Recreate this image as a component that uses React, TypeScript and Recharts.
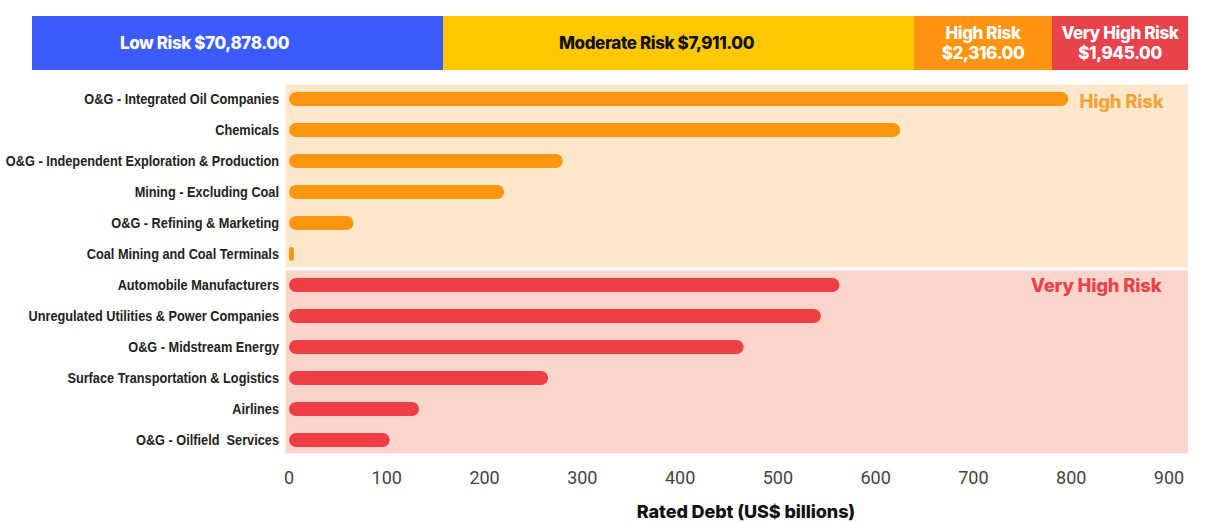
import React from 'react';
import { BarChart, Bar, XAxis, YAxis, Cell, ReferenceArea, Label } from 'recharts';

// sectors ordered top to bottom
const sectors = [
  'O&G - Integrated Oil Companies',
  'Chemicals',
  'O&G - Independent Exploration & Production',
  'Mining - Excluding Coal',
  'O&G - Refining & Marketing',
  'Coal Mining and Coal Terminals',
  'Automobile Manufacturers',
  'Unregulated Utilities & Power Companies',
  'O&G - Midstream Energy',
  'Surface Transportation & Logistics',
  'Airlines',
  'O&G - Oilfield  Services',
];

// rated debt, US$ billions
const ratedDebt = [797, 625, 280, 220, 66, 5, 563, 544, 465, 265, 133, 103];

const riskGroup = [
  'High', 'High', 'High', 'High', 'High', 'High',
  'Very High', 'Very High', 'Very High', 'Very High', 'Very High', 'Very High',
];

const xTicks = [0, 100, 200, 300, 400, 500, 600, 700, 800, 900];

// header strip: total rated debt per risk level
const bandNames = ['Low Risk', 'Moderate Risk', 'High Risk', 'Very High Risk'];
const bandTotals = ['$70,878.00', '$7,911.00', '$2,316.00', '$1,945.00'];

const bandStyle = [
  { width: 411, bg: '#3a5cfd', color: '#fff', split: false, pad: 66 },
  { width: 471, bg: '#fdc800', color: '#111', split: false, pad: 44 },
  { width: 138, bg: '#ff9410', color: '#fff', split: true, pad: 0 },
  { width: 136, bg: '#e8424a', color: '#fff', split: true, pad: 0 },
];

const barColor: { [k: string]: string } = { High: '#ff9610', 'Very High': '#ee4044' };

const data = sectors.map((s, i) => ({ sector: s, debt: ratedDebt[i], risk: riskGroup[i] }));

// narrow bold labels: Liberation Sans squeezed horizontally (no narrow face installed)
const SectorTick = (props: any) => {
  const { x, y, payload } = props;
  return (
    <text
      transform={`translate(${x},${y}) scale(0.85,1)`}
      dy="0.35em"
      textAnchor="end"
      fill="#222"
      fontSize={15}
      fontWeight={700}
      fontFamily="'Liberation Sans', Arial"
      style={{ whiteSpace: 'pre' }}
    >
      {payload.value}
    </text>
  );
};

const Header: React.FC = () => (
  <div style={{ position: 'absolute', left: 32, top: 16, height: 54, display: 'flex', fontFamily: 'Inter', fontWeight: 800, fontSize: 17, letterSpacing: -0.4 }}>
    {bandNames.map((n, i) => (
      <div
        key={n}
        style={{
          width: bandStyle[i].width,
          boxSizing: 'border-box',
          paddingRight: bandStyle[i].pad,
          background: bandStyle[i].bg,
          color: bandStyle[i].color,
          display: 'flex',
          flexDirection: 'column',
          alignItems: 'center',
          justifyContent: 'center',
          lineHeight: '20px',
          textAlign: 'center',
        }}
      >
        {bandStyle[i].split ? (
          <>
            <span>{n}</span>
            <span>{bandTotals[i]}</span>
          </>
        ) : (
          <span>{n} {bandTotals[i]}</span>
        )}
      </div>
    ))}
  </div>
);

export default function App() {
  return (
    <div style={{ position: 'absolute', left: 0, top: 0, width: 1217, height: 523, background: '#fff' }}>
      <BarChart
        width={1217}
        height={523}
        data={data}
        layout="vertical"
        margin={{ top: 83, right: 48, bottom: 0, left: 0 }}
        barCategoryGap={0}
      >
        <XAxis
          type="number"
          domain={[0, 900]}
          ticks={xTicks}
          axisLine={false}
          tickLine={false}
          height={68}
          tickMargin={10}
          tick={{ fill: '#444', fontSize: 18, fontFamily: 'Roboto' }}
        >
          <Label
            value="Rated Debt (US$ billions)"
            position="insideBottom"
            offset={5}
            dx={17}
            style={{ fill: '#111', fontSize: 18, fontWeight: 800, fontFamily: 'Inter', letterSpacing: -0.1 }}
          />
        </XAxis>
        <YAxis
          type="category"
          dataKey="sector"
          width={289}
          axisLine={false}
          tickLine={false}
          tickMargin={4}
          interval={0}
          tick={<SectorTick />}
        />
        <ReferenceArea
          y1={sectors[0]}
          y2={sectors[5]}
          x1={-5}
          x2={921}
          ifOverflow="visible"
          fill="#fde8cc"
          fillOpacity={1}
          stroke="#fff"
          strokeWidth={3}
        >
          <Label
            value="High Risk"
            position="insideTopRight"
            offset={12}
            dx={-14}
            style={{ fill: '#f9a23a', fontSize: 18.5, fontWeight: 800, fontFamily: 'Inter', letterSpacing: -0.2 }}
          />
        </ReferenceArea>
        <ReferenceArea
          y1={sectors[6]}
          y2={sectors[11]}
          x1={-5}
          x2={921}
          ifOverflow="visible"
          fill="#fbd5cc"
          fillOpacity={1}
          stroke="#fff"
          strokeWidth={3}
        >
          <Label
            value="Very High Risk"
            position="insideTopRight"
            offset={10}
            dx={-18}
            style={{ fill: '#e8424a', fontSize: 18.5, fontWeight: 800, fontFamily: 'Inter', letterSpacing: -0.2 }}
          />
        </ReferenceArea>
        <Bar dataKey="debt" barSize={14} radius={7} isAnimationActive={false}>
          {data.map((d) => (
            <Cell key={d.sector} fill={barColor[d.risk]} />
          ))}
        </Bar>
      </BarChart>
      <Header />
    </div>
  );
}
